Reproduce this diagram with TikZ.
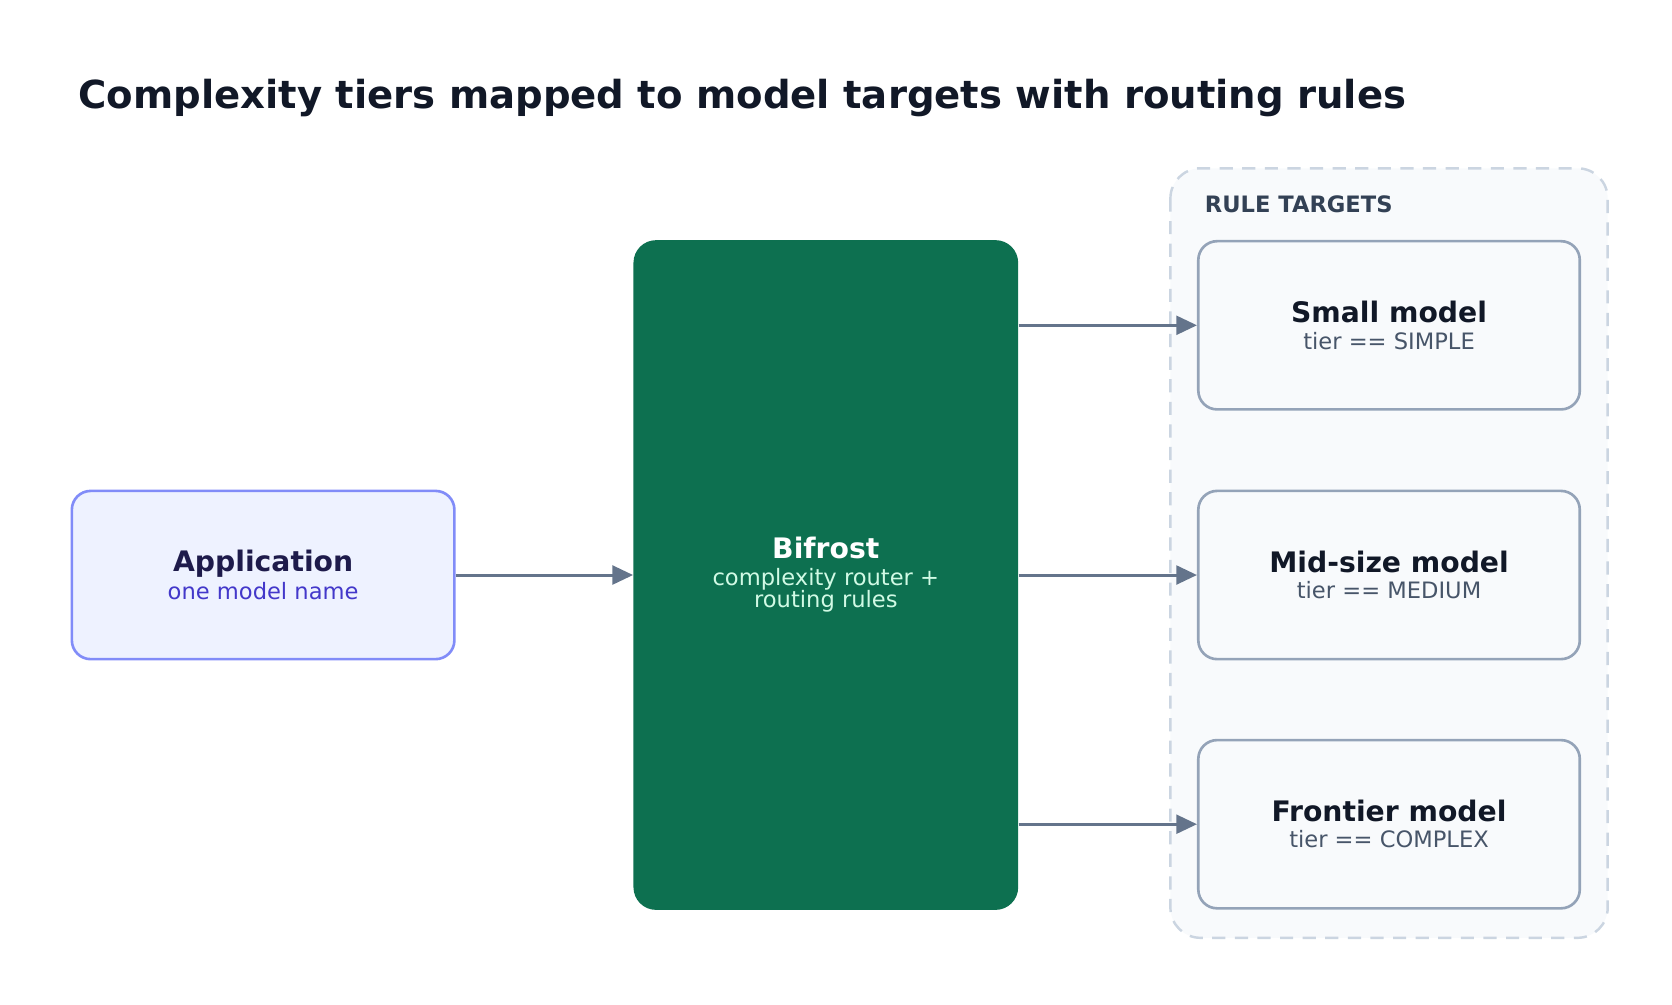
\documentclass[tikz,border=0pt]{standalone}
\usepackage{fontspec}
\setmainfont{DejaVu Sans}
\usetikzlibrary{positioning, arrows.meta}
\definecolor{ink}{HTML}{111827}
\definecolor{slate}{HTML}{334155}
\definecolor{sub}{HTML}{475569}
\definecolor{edge}{HTML}{64748B}
\definecolor{boxline}{HTML}{94A3B8}
\definecolor{boxfill}{HTML}{F8FAFC}
\definecolor{dashline}{HTML}{CBD5E1}
\definecolor{appfill}{HTML}{EEF2FF}
\definecolor{appline}{HTML}{818CF8}
\definecolor{appsub}{HTML}{4338CA}
\definecolor{appink}{HTML}{1E1B4B}
\definecolor{bifrost}{HTML}{0D7050}
\definecolor{bifsub}{HTML}{D1FAE5}
\begin{document}
\begin{tikzpicture}[x=0.02cm, y=-0.02cm,
    flow/.style={draw=edge, line width=1.6pt, -{Triangle[length=11pt, width=10pt]}},
    target/.style={rectangle, draw=boxline, fill=boxfill, line width=1.4pt, rounded corners=10pt, minimum width=7.12cm, minimum height=3.14cm, align=center},
    title/.style={font=\bfseries\fontsize{15}{18}\selectfont}
  ]
  \useasboundingbox (0,0) rectangle (1560,937);
  % title
  \node[anchor=base west, text=ink, font=\bfseries\fontsize{20.5}{24}\selectfont] (head) at (67,101) {Complexity tiers mapped to model targets with routing rules};
  % rule target group
  \draw[dashline, dash pattern=on 7pt off 5pt, line width=1.3pt, fill=boxfill, rounded corners=16pt] (1092,157) rectangle (1500,875);
  \node[anchor=base west, text=slate, font=\bfseries\fontsize{12}{14}\selectfont] (grp) at (1118,198) {RULE TARGETS};
  % nodes
  \node[rectangle, draw=appline, fill=appfill, line width=1.4pt, rounded corners=10pt, minimum width=7.14cm, minimum height=3.14cm, align=center] (app) at (245.5,536.5)
    {\textcolor{appink}{\bfseries\fontsize{15}{18}\selectfont Application}\\[2pt]\textcolor{appsub}{\fontsize{12}{15}\selectfont one model name}};
  \node[rectangle, fill=bifrost, rounded corners=12pt, minimum width=7.18cm, minimum height=12.5cm, align=center] (bif) at (770.5,536.5)
    {\textcolor{white}{\bfseries\fontsize{15}{18}\selectfont Bifrost}\\[2pt]\textcolor{bifsub}{\fontsize{12}{15}\selectfont complexity router +}\\\textcolor{bifsub}{\fontsize{12}{15}\selectfont routing rules}};
  \node[target] (small) at (1296,303.5) {\textcolor{ink}{\bfseries\fontsize{15}{18}\selectfont Small model}\\[2pt]\textcolor{sub}{\fontsize{12}{15}\selectfont tier == SIMPLE}};
  \node[target] (mid) at (1296,536.5) {\textcolor{ink}{\bfseries\fontsize{15}{18}\selectfont Mid-size model}\\[2pt]\textcolor{sub}{\fontsize{12}{15}\selectfont tier == MEDIUM}};
  \node[target] (front) at (1296,769) {\textcolor{ink}{\bfseries\fontsize{15}{18}\selectfont Frontier model}\\[2pt]\textcolor{sub}{\fontsize{12}{15}\selectfont tier == COMPLEX}};
  % connectors
  \draw[flow] (app) -- (bif);
  \draw[flow] (bif.east |- small) -- (small);
  \draw[flow] (bif) -- (mid);
  \draw[flow] (bif.east |- front) -- (front);
\end{tikzpicture}
\end{document}
